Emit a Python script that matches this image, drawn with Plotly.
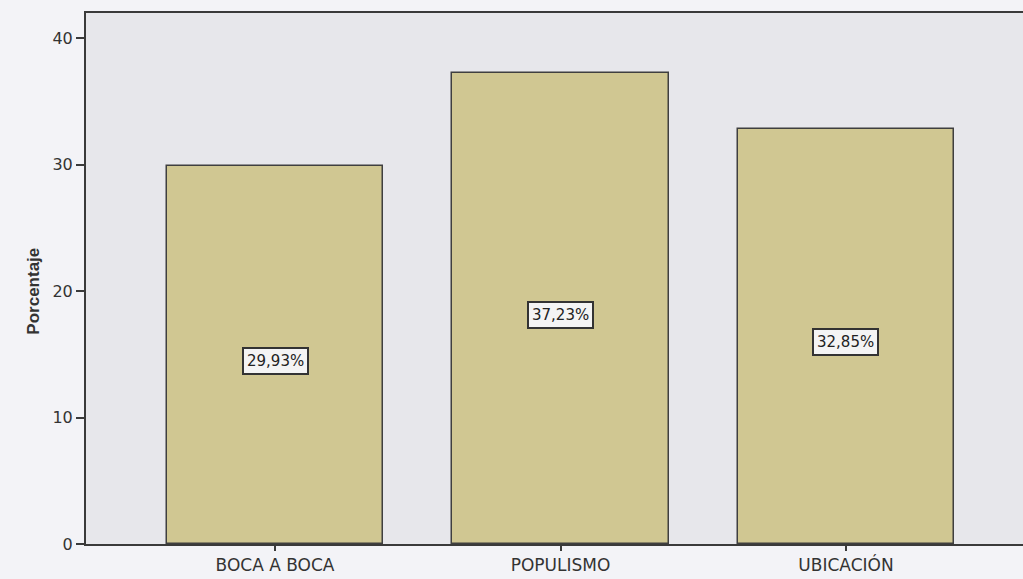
import plotly.graph_objects as go

# Chart data
categories = ["BOCA A BOCA", "POPULISMO", "UBICACIÓN"]
percentages = [29.93, 37.23, 32.85]
value_labels = ["29,93%", "37,23%", "32,85%"]
y_ticks = [0, 10, 20, 30, 40]

x_pos = list(range(len(categories)))
FONT = "DejaVu Sans, Verdana, Arial"

fig = go.Figure()
fig.add_trace(go.Bar(
    x=x_pos,
    y=percentages,
    width=0.757,
    marker=dict(color="#d0c792", line=dict(color="#3f3f3f", width=1.5)),
    hoverinfo="skip",
))

# Boxed value labels at the middle of each bar
for xi, v, lab in zip(x_pos, percentages, value_labels):
    fig.add_annotation(
        x=xi, y=v / 2, yshift=-6, text=lab, showarrow=False,
        font=dict(family=FONT, size=15, color="#222222"),
        bgcolor="#f4f4f4", bordercolor="#333333", borderwidth=2, borderpad=3,
    )

# Axis title, centred on the 0-40 data span
fig.add_annotation(
    xref="paper", yref="y", x=0, y=20, xshift=-64,
    text="<b>Porcentaje</b>", textangle=-90, showarrow=False,
    font=dict(family="Liberation Sans, Arial", size=17, color="#333333"),
)

fig.update_layout(
    width=1023, height=579,
    margin=dict(l=86, r=0, t=13, b=35),
    paper_bgcolor="#f3f3f7",
    plot_bgcolor="#e7e7eb",
    showlegend=False,
    bargap=0,
    font=dict(family=FONT, color="#333333"),
    xaxis=dict(
        range=[-0.662, 2.62],
        tickmode="array", tickvals=x_pos, ticktext=categories,
        tickfont=dict(family=FONT, size=17, color="#333333"),
        showline=True, linecolor="#3a3a3a", linewidth=2, mirror=True,
        showgrid=False, zeroline=False,
        ticks="outside", ticklen=5, tickwidth=2, tickcolor="#3a3a3a",
        fixedrange=True,
    ),
    yaxis=dict(
        range=[0, 42],
        tickmode="array", tickvals=y_ticks,
        tickfont=dict(family=FONT, size=16, color="#333333"),
        ticks="outside", ticklen=8, tickwidth=2, tickcolor="#3a3a3a",
        showline=True, linecolor="#3a3a3a", linewidth=2,
        showgrid=False, zeroline=False,
        fixedrange=True,
    ),
)

fig.write_html("out.html")
